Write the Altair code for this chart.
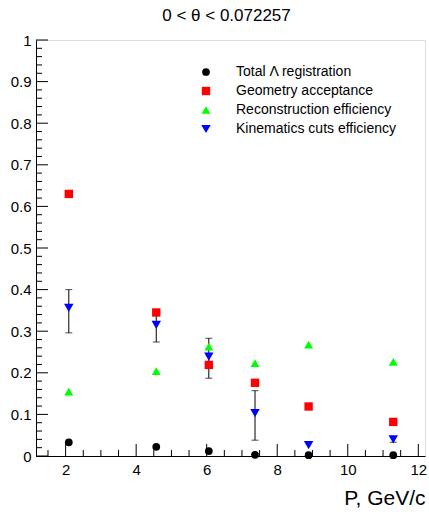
import altair as alt
import pandas as pd

# ---- data ----
P = [2.09, 4.57, 6.06, 7.37, 8.89, 11.29]
total_reg = [0.033, 0.022, 0.012, 0.003, 0.002, 0.002]
geom_acc = [0.630, 0.345, 0.219, 0.176, 0.119, 0.082]
reco_eff = [0.155, 0.204, 0.263, 0.223, 0.268, 0.226]
kin_eff = [0.356, 0.315, 0.239, 0.103, 0.026, 0.040]
kin_lo = [0.296, 0.274, 0.187, 0.038, 0.026, 0.033]
kin_hi = [0.400, 0.341, 0.283, 0.157, 0.026, 0.047]

series_names = ["Total \u039b registration", "Geometry acceptance",
                "Reconstruction efficiency", "Kinematics cuts efficiency"]
series_colors = ["#000000", "#ff0000", "#00ff00", "#0000ff"]
series_shapes = ["circle", "square", "triangle-up", "triangle-down"]
series_sizes = [60, 90, 70, 80]

x_major = [2, 4, 6, 8, 10, 12]
x_minor = [1.5, 2.5, 3, 3.5, 4.5, 5, 5.5, 6.5, 7, 7.5, 8.5, 9, 9.5, 10.5, 11, 11.5]
y_major = [0, 0.1, 0.2, 0.3, 0.4, 0.5, 0.6, 0.7, 0.8, 0.9, 1]
y_minor = [round(0.02 * i, 2) for i in range(51) if i % 5 != 0]

X_DOMAIN = [1.16, 12.19]
Y_DOMAIN = [0, 1]
W, H = 389, 416
FONT = "Liberation Sans"

rows = []
for name, vals in zip(series_names, [total_reg, geom_acc, reco_eff, kin_eff]):
    for p, v in zip(P, vals):
        rows.append({"P": p, "value": v, "series": name})
df = pd.DataFrame(rows)

err = pd.DataFrame({"P": P, "lo": kin_lo, "hi": kin_hi})
err = err[err["hi"] > err["lo"]]

xs = alt.Scale(domain=X_DOMAIN, nice=False, zero=False)
ys = alt.Scale(domain=Y_DOMAIN, nice=False, zero=False)

x_axis = alt.Axis(values=x_major, ticks=False, grid=False, domain=True,
                  domainColor="black", labelFont=FONT, labelFontSize=15,
                  labelColor="black", labelPadding=6, labelFlush=False,
                  title="P, GeV/c", titleFont=FONT, titleFontSize=21,
                  titleFontWeight="normal", titleColor="black",
                  titleAnchor="end", titleAlign="right", titleX=W, titleY=48,
                  titleBaseline="alphabetic")
y_axis = alt.Axis(values=y_major, format="~g", ticks=False, grid=False,
                  domain=True, domainColor="black", labelFont=FONT,
                  labelFontSize=15, labelColor="black", labelPadding=5,
                  labelFlush=False, title=None)


def legend():
    return alt.Legend(title=None, orient="none", legendX=163, legendY=25,
                      labelFont=FONT, labelFontSize=14, labelColor="black",
                      labelOffset=23, labelLimit=400, rowPadding=5,
                      padding=0, symbolStrokeWidth=0)


points = alt.Chart(df).mark_point(filled=True, opacity=1).encode(
    x=alt.X("P:Q", scale=xs, axis=x_axis),
    y=alt.Y("value:Q", scale=ys, axis=y_axis),
    color=alt.Color("series:N", sort=series_names,
                    scale=alt.Scale(domain=series_names, range=series_colors),
                    legend=legend()),
    shape=alt.Shape("series:N", sort=series_names,
                    scale=alt.Scale(domain=series_names, range=series_shapes),
                    legend=legend()),
    size=alt.Size("series:N", sort=series_names,
                  scale=alt.Scale(domain=series_names, range=series_sizes),
                  legend=legend()),
)

err_rule = alt.Chart(err).mark_rule(color="black", strokeWidth=1).encode(
    x=alt.X("P:Q", scale=xs), y=alt.Y("lo:Q", scale=ys), y2="hi:Q")
cap_lo = alt.Chart(err).mark_tick(color="black", orient="horizontal",
                                  size=7, thickness=1).encode(
    x=alt.X("P:Q", scale=xs), y=alt.Y("lo:Q", scale=ys))
cap_hi = alt.Chart(err).mark_tick(color="black", orient="horizontal",
                                  size=7, thickness=1).encode(
    x=alt.X("P:Q", scale=xs), y=alt.Y("hi:Q", scale=ys))


def xticks(vals, length):
    return alt.Chart(pd.DataFrame({"t": vals})).mark_rule(
        color="black", strokeWidth=1).encode(
        x=alt.X("t:Q", scale=xs), y=alt.value(H), y2=alt.value(H - length))


def yticks(vals, length):
    return alt.Chart(pd.DataFrame({"t": vals})).mark_rule(
        color="black", strokeWidth=1).encode(
        y=alt.Y("t:Q", scale=ys), x=alt.value(0), x2=alt.value(length))


chart = alt.layer(
    xticks(x_major, 12), xticks(x_minor, 6),
    yticks(y_major, 12), yticks(y_minor, 6),
    err_rule, cap_lo, cap_hi, points,
).properties(
    width=W, height=H,
    title=alt.Title("0 < \u03b8 < 0.072257", font=FONT, fontSize=17,
                    fontWeight="normal", color="black", anchor="middle",
                    offset=8, dx=-4),
    autosize=alt.AutoSizeParams(type="none"),
    padding={"left": 36, "top": 40, "right": 4, "bottom": 56},
).configure_view(stroke="black", strokeWidth=1).configure(background="white")

chart.save("out.html", embed_options={"renderer": "svg", "actions": False})
